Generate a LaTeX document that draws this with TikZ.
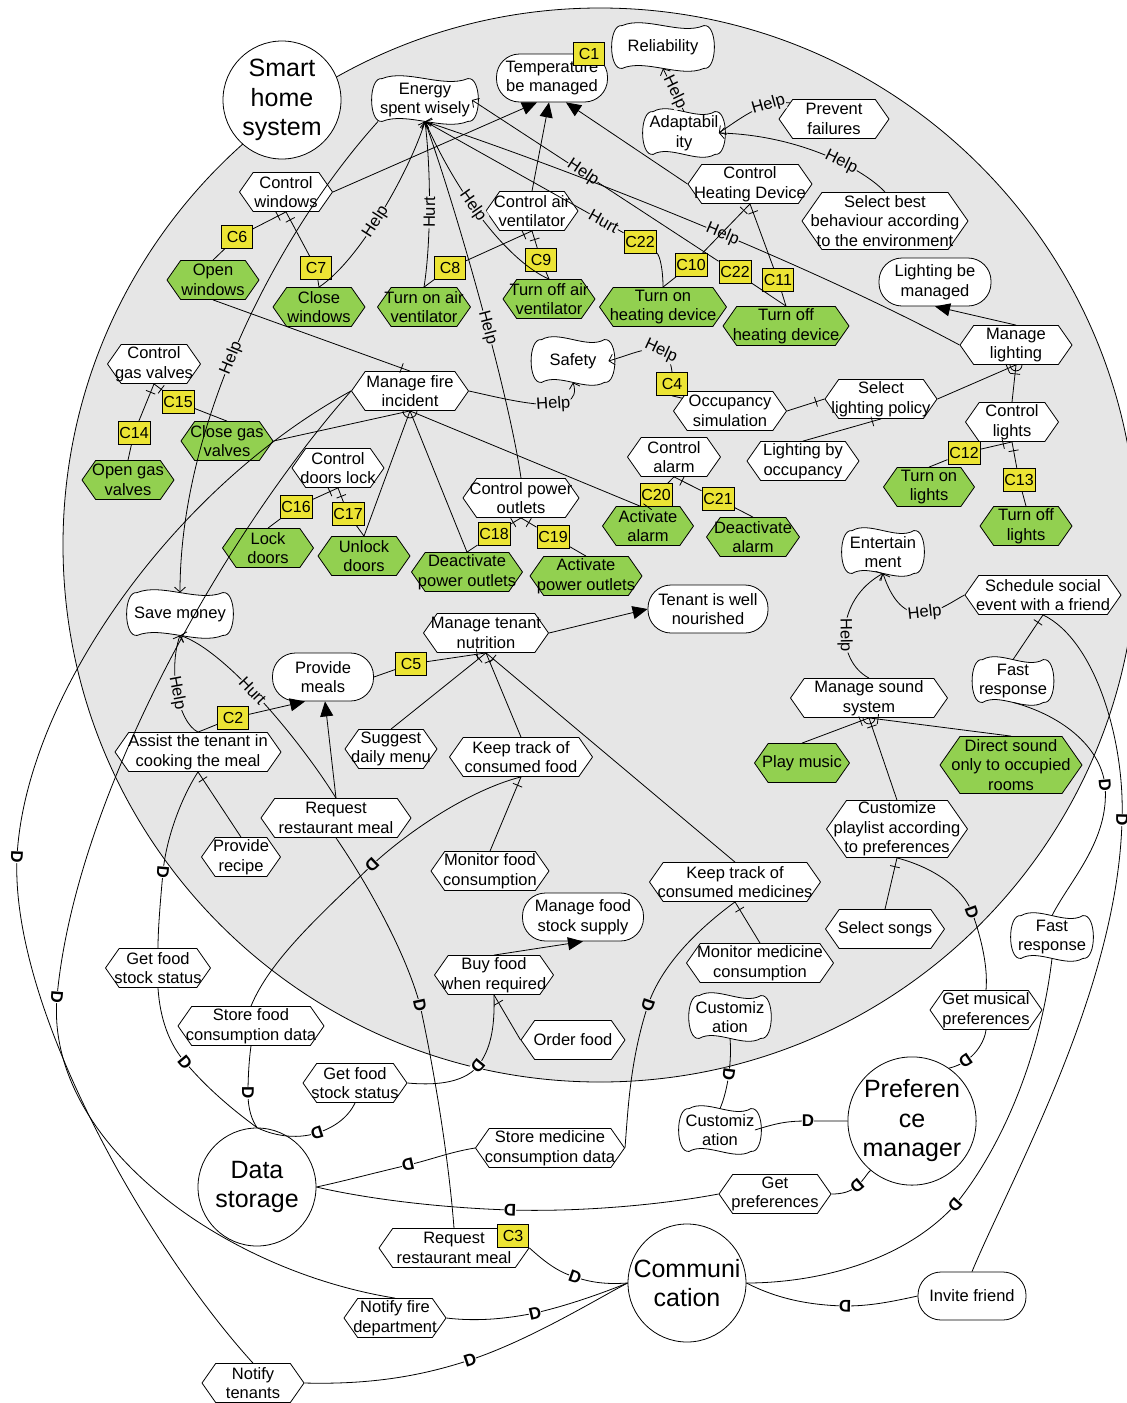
\documentclass[tikz,border=0pt]{standalone}
\usepackage{fontspec}
\setmainfont{Liberation Sans}
\usetikzlibrary{shapes.symbols,arrows.meta,decorations.markings,calc}
\definecolor{actgrey}{RGB}{230,230,230}
\definecolor{tgreen}{RGB}{146,208,80}
\definecolor{cyel}{RGB}{236,228,52}
\pgfdeclarelayer{bgl}
\pgfdeclarelayer{sgl}
\pgfsetlayers{bgl,sgl,main}
\newcommand\sgshape[1]{%
  \draw[line width=0.8pt,fill=white]
    ($(#1.north west)+(4,0)$)
    .. controls ($(#1.north west)!0.3!(#1.north east)+(0,-10)$) and ($(#1.north west)!0.7!(#1.north east)+(0,10)$) .. ($(#1.north east)+(-4,0)$)
    .. controls ($(#1.north east)+(10,-2)$) and ($(#1.south east)+(10,2)$) .. ($(#1.south east)+(-4,0)$)
    .. controls ($(#1.south west)!0.7!(#1.south east)+(0,10)$) and ($(#1.south west)!0.3!(#1.south east)+(0,-10)$) .. ($(#1.south west)+(4,0)$)
    .. controls ($(#1.south west)+(-10,2)$) and ($(#1.north west)+(-10,-2)$) .. ($(#1.north west)+(4,0)$) -- cycle;}
\tikzset{
  base/.style={font=\fontsize{16.5}{19.5}\selectfont, line width=0.8pt, align=center},
  task/.style={base, draw, fill=white, signal, signal to=east and west, signal pointer angle=110, inner xsep=-22pt, inner ysep=0.5pt, minimum height=39},
  gtask/.style={task, fill=tgreen},
  goal/.style={base, draw, fill=white, rectangle, rounded corners=23pt, inner sep=0pt, minimum height=48},
  sgoal/.style={base, inner sep=0pt, minimum height=42},
  actor/.style={draw, fill=white, circle, inner sep=0pt, minimum size=118, line width=0.8pt, align=center, font=\fontsize{25}{29.5}\selectfont},
  clab/.style={draw, fill=cyel, inner xsep=1.5pt, inner ysep=0pt, minimum width=31, minimum height=23, font=\fontsize{16}{16}\selectfont, line width=0.6pt},
  lk/.style={line width=0.8pt},
  me/.style={lk, -{Triangle[length=15pt,width=13pt]}},
  ctb/.style={lk, -{Straight Barb[length=5pt,width=11pt]}},
  hl/.style={fill=actgrey, inner sep=0.5pt, sloped, font=\fontsize{16.5}{16.5}\selectfont},
  dec/.style={lk, postaction={decorate}, decoration={markings, mark=at position 9pt with {\draw[line width=0.8pt] (0pt,-5pt) -- (0pt,5pt);}}},
  dd/.style={sloped, allow upside down, fill=#1, inner sep=0pt, font=\fontsize{17}{17}\selectfont\bfseries},
  dd/.default=white
}
\begin{document}
\begin{tikzpicture}[x=1pt,y=-1pt]
\useasboundingbox (0,0) rectangle (1127,1403);
\begin{pgfonlayer}{bgl}
\fill[white] (0,0) rectangle (1127,1403);
\draw[line width=0.8pt, fill=actgrey] (600,545) circle[radius=537];
\end{pgfonlayer}
% actors
\node[actor] (shs) at (282,100) {Smart\\home\\system};
\node[actor] (ds) at (257,1187) {Data\\storage};
\node[actor] (com) at (687,1283) {Communi\\cation};
\node[actor] (pm) at (912,1121) {Preferen\\ce\\manager};
% goals
\node[goal, minimum width=111] (tbm) at (552,78) {Temperature\\be managed};
\node[goal, minimum width=112] (lbm) at (935,282) {Lighting be\\managed};
\node[goal, minimum width=120] (twn) at (708,609) {Tenant is well\\nourished};
\node[goal, minimum width=101] (pml) at (323,677) {Provide\\meals};
\node[goal, minimum width=121] (mfs) at (583,917) {Manage food\\stock supply};
\node[goal, minimum width=108] (inv) at (972,1296) {Invite friend};
% softgoals
\node[sgoal, minimum width=93] (esw) at (425,100) {Energy\\spent wisely};
\node[sgoal, minimum width=89] (rel) at (663,47) {Reliability};
\node[sgoal, minimum width=69] (adp) at (684,133) {Adaptabil\\ity};
\node[sgoal, minimum width=70] (saf) at (573,361) {Safety};
\node[sgoal, minimum width=93] (sav) at (180,614) {Save money};
\node[sgoal, minimum width=69] (ent) at (883,552) {Entertain\\ment};
\node[sgoal, minimum width=68] (fr1) at (1013,681) {Fast\\response};
\node[sgoal, minimum width=69] (fr2) at (1052,937) {Fast\\response};
\node[sgoal, minimum width=68] (cu1) at (730,1017) {Customiz\\ation};
\node[sgoal, minimum width=69] (cu2) at (720,1130) {Customiz\\ation};
\begin{pgfonlayer}{sgl}
\sgshape{esw}\sgshape{rel}\sgshape{adp}\sgshape{saf}\sgshape{sav}
\sgshape{ent}\sgshape{fr1}\sgshape{fr2}\sgshape{cu1}\sgshape{cu2}
\end{pgfonlayer}
% tasks
\node[task, minimum width=93] (cw) at (286,192) {Control\\windows};
\node[task, minimum width=92] (cav) at (532,211) {Control air\\ventilator};
\node[task, minimum width=110] (pf) at (834,119) {Prevent\\failures};
\node[task, minimum width=124] (chd) at (750,184) {Control\\Heating Device};
\node[task, minimum width=166, minimum height=57] (sbb) at (885,221) {Select best\\behaviour according\\to the environment};
\node[task, minimum width=112] (mli) at (1016,345) {Manage\\lighting};
\node[task, minimum width=117] (mfi) at (410,391) {Manage fire\\incident};
\node[task, minimum width=93] (cgv) at (154,364) {Control\\gas valves};
\node[task, minimum width=113] (occ) at (730,411) {Occupancy\\simulation};
\node[task, minimum width=112] (slp) at (881,399) {Select\\lighting policy};
\node[task, minimum width=93] (cli) at (1012,422) {Control\\lights};
\node[task, minimum width=112] (lbo) at (803,461) {Lighting by\\occupancy};
\node[task, minimum width=93] (cal) at (674,457) {Control\\alarm};
\node[task, minimum width=92] (cdl) at (338,468) {Control\\doors lock};
\node[task, minimum width=116] (cpo) at (521,498) {Control power\\outlets};
\node[task, minimum width=156] (sse) at (1043,595) {Schedule social\\event with a friend};
\node[task, minimum width=125] (mtn) at (486,633) {Manage tenant\\nutrition};
\node[task, minimum width=166] (atc) at (198,752) {Assist the tenant in\\cooking the meal};
\node[task, minimum width=92] (sdm) at (391,749) {Suggest\\daily menu};
\node[task, minimum width=143] (ktf) at (521,757) {Keep track of\\consumed food};
\node[task, minimum width=157] (mss) at (869,698) {Manage sound\\system};
\node[task, minimum width=150] (rrm) at (336,818) {Request\\restaurant meal};
\node[task, minimum width=79] (prc) at (241,857) {Provide\\recipe};
\node[task, minimum width=118] (mfc) at (490,871) {Monitor food\\consumption};
\node[task, minimum width=171] (ktm) at (735,882) {Keep track of\\consumed medicines};
\node[task, minimum width=141, minimum height=57] (cpl) at (897,829) {Customize\\playlist according\\to preferences};
\node[task, minimum width=119] (ssg) at (885,929) {Select songs};
\node[task, minimum width=119] (bfw) at (494,975) {Buy food\\when required};
\node[task, minimum width=147] (mmc) at (760,963) {Monitor medicine\\consumption};
\node[task, minimum width=104] (ord) at (573,1040) {Order food};
\node[task, minimum width=105] (gfs1) at (158,968) {Get food\\stock status};
\node[task, minimum width=146] (sfc) at (251,1026) {Store food\\consumption data};
\node[task, minimum width=104] (gfs2) at (355,1083) {Get food\\stock status};
\node[task, minimum width=149] (smc) at (550,1148) {Store medicine\\consumption data};
\node[task, minimum width=112] (gmp) at (986,1010) {Get musical\\preferences};
\node[task, minimum width=112] (gpr) at (775,1194) {Get\\preferences};
\node[task, minimum width=150] (rrm2) at (454,1248) {Request\\restaurant meal};
\node[task, minimum width=102] (nfd) at (395,1318) {Notify fire\\department};
\node[task, minimum width=102] (ntn) at (253,1383) {Notify\\tenants};
% green tasks
\node[gtask, minimum width=92] (ow) at (213,280) {Open\\windows};
\node[gtask, minimum width=92] (clw) at (319,307) {Close\\windows};
\node[gtask, minimum width=93] (tav) at (424,307) {Turn on air\\ventilator};
\node[gtask, minimum width=92] (tfv) at (549,299) {Turn off air\\ventilator};
\node[gtask, minimum width=127] (thd) at (663,307) {Turn on\\heating device};
\node[gtask, minimum width=126] (tfh) at (786,326) {Turn off\\heating device};
\node[gtask, minimum width=92] (cgs) at (227,441) {Close gas\\valves};
\node[gtask, minimum width=92] (ogv) at (128,480) {Open gas\\valves};
\node[gtask, minimum width=91] (tol) at (929,487) {Turn on\\lights};
\node[gtask, minimum width=92] (tfl) at (1026,526) {Turn off\\lights};
\node[gtask, minimum width=91] (lkd) at (268,548) {Lock\\doors};
\node[gtask, minimum width=92] (uld) at (364,556) {Unlock\\doors};
\node[gtask, minimum width=111] (dpo) at (467,572) {Deactivate\\power outlets};
\node[gtask, minimum width=112] (apo) at (586,576) {Activate\\power outlets};
\node[gtask, minimum width=91] (aal) at (648,526) {Activate\\alarm};
\node[gtask, minimum width=93] (dal) at (753,537) {Deactivate\\alarm};
\node[gtask, minimum width=95] (pmu) at (802,763) {Play music};
\node[gtask, minimum width=142, minimum height=57] (dso) at (1011,765) {Direct sound\\only to occupied\\rooms};
% C labels
\node[clab] (c1) at (589,54) {C1};
\node[clab] (c2) at (233,718) {C2};
\node[clab] (c3) at (513,1236) {C3};
\node[clab] (c4) at (672,384) {C4};
\node[clab] (c5) at (411,664) {C5};
\node[clab] (c6) at (237,237) {C6};
\node[clab] (c7) at (316,268) {C7};
\node[clab] (c8) at (450,268) {C8};
\node[clab] (c9) at (541,260) {C9};
\node[clab] (c10) at (691,265) {C10};
\node[clab] (c11) at (778,280) {C11};
\node[clab] (c12) at (964,453) {C12};
\node[clab] (c13) at (1019,480) {C13};
\node[clab] (c14) at (134,433) {C14};
\node[clab] (c15) at (178,402) {C15};
\node[clab] (c16) at (296,507) {C16};
\node[clab] (c17) at (348,514) {C17};
\node[clab] (c18) at (494,534) {C18};
\node[clab] (c19) at (553,537) {C19};
\node[clab] (c20) at (656,495) {C20};
\node[clab] (c21) at (718,499) {C21};
\node[clab] (c22a) at (640,242) {C22};
\node[clab] (c22b) at (735,272) {C22};
% means-end
\draw[me] (cw.east) -- ([xshift=-15pt]tbm.south);
\draw[me] (cav.north) -- ([xshift=-3pt]tbm.south);
\draw[me] (chd.west) -- ([xshift=14pt]tbm.south);
\draw[me] (mli.north) -- (lbm.south);
\draw[me] (mtn.east) -- (twn.west);
\draw[me] (atc.north) -- (c2) -- ([xshift=-18pt]pml.south);
\draw[me] (rrm.north) -- ([xshift=2pt]pml.south);
\draw[me] (bfw.north) -- (mfs.south);
% contributions
\draw[ctb] (adp.north) -- (rel.south) node[hl,pos=0.45]{Help};
\draw[ctb] (pf.160) .. controls (765,100) and (745,115) .. (adp.east) node[hl,pos=0.3]{Help};
\draw[ctb] (sbb.north) .. controls (865,170) and (800,135) .. (adp.east) node[hl,pos=0.4]{Help};
\draw[ctb] (clw.north) .. controls (360,260) and (410,170) .. (esw.south) node[hl,pos=0.45]{Help};
\draw[ctb] (tav.north) .. controls (430,250) and (432,180) .. (esw.south) node[hl,pos=0.5]{Hurt};
\draw[ctb] (tfv.north) .. controls (510,262) and (460,200) .. (esw.south) node[hl,pos=0.6]{Help};
\draw[ctb] (cpo.north) .. controls (510,400) and (460,220) .. (esw.south) node[hl,pos=0.45]{Help};
\draw[ctb] (thd.north) .. controls (663,270) and (660,255) .. (c22a) -- (esw.south) node[hl,pos=0.1]{Hurt};
\draw[ctb] (tfh.north) -- (c22b) -- (esw.east) node[hl,pos=0.55]{Help};
\draw[ctb] (mli.west) .. controls (820,270) and (600,180) .. (esw.south) node[hl,pos=0.47]{Help};
\draw[ctb] (mfi.east) .. controls (510,400) and (585,420) .. (saf.south) node[hl,pos=0.6]{Help};
\draw[lk] (c4.south) -- (occ.165);
\draw[ctb] (c4.north) .. controls (668,335) and (640,352) .. (saf.east) node[hl,pos=0.33]{Help};
\draw[ctb] (esw.south west) .. controls (280,230) and (180,420) .. (sav.north) node[hl,pos=0.55]{Help};
\draw[ctb] (atc.north) .. controls (178,722) and (168,670) .. (sav.south) node[hl,pos=0.5]{Help};
\draw[ctb] (rrm.north) .. controls (300,740) and (225,650) .. (sav.south) node[hl,pos=0.55]{Hurt};
\draw[ctb] (mss.north) .. controls (835,660) and (835,600) .. (ent.south) node[hl,pos=0.45]{Help};
\draw[ctb] (sse.west) .. controls (945,605) and (905,640) .. (ent.south) node[hl,pos=0.5]{Help};
% decompositions
\draw[dec] (cw.south) -- (c6) -- (ow.north);
\draw[dec] (cw.south) -- (c7) -- (clw.north);
\draw[dec] (cav.south) -- (c8) -- (tav.north);
\draw[dec] (cav.south) -- (c9) -- (tfv.north);
\draw[dec] (chd.south) -- (c10) -- (thd.north);
\draw[dec] (chd.south) -- (c11) -- (tfh.north);
\draw[dec] (mli.south) -- (slp.east);
\draw[dec] (mli.south) -- (cli.north);
\draw[dec] (cli.south) -- (c12) -- (tol.north);
\draw[dec] (cli.south) -- (c13) -- (tfl.north);
\draw[dec] (slp.west) -- (occ.east);
\draw[dec] (slp.south) -- (lbo.north);
\draw[dec] (cgv.south) -- (c14) -- (ogv.north);
\draw[dec] (cgv.south) -- (c15) -- (cgs.north);
\draw[dec] (cdl.south) -- (c16) -- (lkd.north);
\draw[dec] (cdl.south) -- (c17) -- (uld.north);
\draw[dec] (cpo.south) -- (c18) -- (dpo.north);
\draw[dec] (cpo.south) -- (c19) -- (apo.north);
\draw[dec] (cal.south) -- (c20) -- (aal.north);
\draw[dec] (cal.south) -- (c21) -- (dal.north);
\draw[dec] (mfi.north) -- (ow.south);
\draw[lk] (mfi.south) -- (cgs.east);
\draw[lk] (mfi.south) -- (uld.north);
\draw[lk] (mfi.south) -- (dpo.north);
\draw[lk] (mfi.south) -- ([xshift=-8pt]aal.north);
\draw[dec] (mtn.south) -- (c5) -- (pml.east);
\draw[dec] (mtn.south) -- (sdm.north);
\draw[dec] (mtn.south) -- (ktf.north);
\draw[dec] (mtn.south) -- (ktm.north);
\draw[dec] (ktf.south) -- (mfc.north);
\draw[dec] (ktm.south) -- (mmc.north);
\draw[dec] (atc.south) -- (prc.north);
\draw[dec] (bfw.south) -- (ord.west);
\draw[dec] (mss.south) -- (pmu.north);
\draw[dec] (mss.south) -- (dso.north);
\draw[dec] (mss.south) -- (cpl.north);
\draw[dec] (cpl.south) -- (ssg.north);
\draw[dec] (sse.south) -- (fr1.north);
% small decomposition cups
\draw[lk] ([xshift=-7pt]mfi.south) arc[start angle=180,end angle=360,radius=7pt];
\draw[lk] ([xshift=-6pt]mli.south) arc[start angle=180,end angle=360,radius=6pt];
\draw[lk] ([xshift=-6pt]mss.south) arc[start angle=180,end angle=360,radius=6pt];
% dependencies
\draw[lk] (mfi.west) .. controls (170,490) and (25,700) .. (17,857) .. controls (10,1010) and (150,1250) .. (ntn.north) node[dd,pos=0]{D};
\draw[lk] (mfi.west) .. controls (220,540) and (75,800) .. (57,997) .. controls (45,1140) and (220,1270) .. (nfd.north) node[dd,pos=0]{D};
\draw[lk] (rrm.south) .. controls (365,880) and (405,950) .. (420,1005) .. controls (432,1060) and (448,1150) .. (rrm2.north) node[dd=actgrey,pos=0]{D};
\draw[lk] (rrm2.east) .. controls (545,1262) and (558,1272) .. (575,1277) .. controls (595,1284) and (612,1284) .. (com.west) node[dd,pos=0]{D};
\draw[lk] (nfd.east) .. controls (480,1322) and (510,1318) .. (535,1313) .. controls (570,1305) and (605,1292) .. (com.west) node[dd,pos=0]{D};
\draw[lk] (ntn.east) .. controls (380,1385) and (430,1373) .. (470,1360) .. controls (530,1340) and (595,1300) .. (com.west) node[dd,pos=0]{D};
\draw[lk] (inv.west) .. controls (890,1302) and (870,1306) .. (845,1306) .. controls (800,1305) and (770,1295) .. (com.east) node[dd,pos=0]{D};
\draw[lk] (sse.south) .. controls (1095,640) and (1125,740) .. (1122,820) .. controls (1118,990) and (1010,1180) .. (inv.north) node[dd,pos=0]{D};
\draw[lk] (fr1.south) .. controls (1060,715) and (1100,745) .. (1105,785) .. controls (1110,840) and (1070,880) .. (fr2.north) node[dd,pos=0]{D};
\draw[lk] (fr2.south) .. controls (1040,1060) and (1000,1150) .. (955,1205) .. controls (900,1265) and (810,1283) .. (com.east) node[dd,pos=0]{D};
\draw[lk] (cpl.south) .. controls (935,868) and (962,888) .. (972,912) .. controls (982,940) and (988,968) .. (gmp.north) node[dd=actgrey,pos=0]{D};
\draw[lk] (gmp.south) .. controls (985,1040) and (975,1062) .. (pm.55) node[dd,pos=0.75]{D};
\draw[lk] (cu1.south) .. controls (732,1060) and (728,1090) .. (cu2.north) node[dd,pos=0.5]{D};
\draw[lk] (cu2.east) .. controls (780,1122) and (790,1121) .. (808,1121) .. controls (825,1121) and (840,1121) .. (pm.west) node[dd,pos=0]{D};
\draw[lk] (pm.230) .. controls (868,1172) and (864,1180) .. (857,1186) .. controls (850,1192) and (842,1194) .. (gpr.east) node[dd,pos=0]{D};
\draw[lk] (gpr.west) .. controls (660,1205) and (580,1212) .. (510,1210) .. controls (420,1207) and (350,1195) .. (ds.east) node[dd,pos=0]{D};
\draw[lk] (smc.west) .. controls (450,1152) and (430,1160) .. (408,1165) .. controls (370,1174) and (340,1182) .. (ds.east) node[dd,pos=0]{D};
\draw[lk] (ktm.south) .. controls (690,935) and (660,970) .. (648,1005) .. controls (630,1060) and (628,1110) .. (smc.east) node[dd=actgrey,pos=0]{D};
\draw[lk] (ktf.south) .. controls (470,790) and (410,830) .. (372,865) .. controls (320,915) and (270,960) .. (sfc.north) node[dd=actgrey,pos=0]{D};
\draw[lk] (sfc.south) .. controls (249,1060) and (248,1078) .. (248,1093) .. controls (248,1110) and (252,1120) .. (ds.north) node[dd,pos=0]{D};
\draw[lk] (bfw.south) .. controls (495,1030) and (490,1050) .. (478,1066) .. controls (462,1085) and (430,1085) .. (gfs2.east) node[dd,pos=0]{D};
\draw[lk] (gfs2.south) .. controls (348,1118) and (333,1128) .. (317,1133) .. controls (295,1140) and (272,1135) .. (ds.north) node[dd,pos=0]{D};
\draw[lk] (atc.south) .. controls (180,800) and (166,840) .. (163,872) .. controls (160,905) and (158,930) .. (gfs1.north) node[dd,pos=0]{D};
\draw[lk] (gfs1.south) .. controls (160,1020) and (170,1045) .. (185,1062) .. controls (210,1092) and (240,1115) .. (ds.north) node[dd,pos=0]{D};
\end{tikzpicture}
\end{document}
